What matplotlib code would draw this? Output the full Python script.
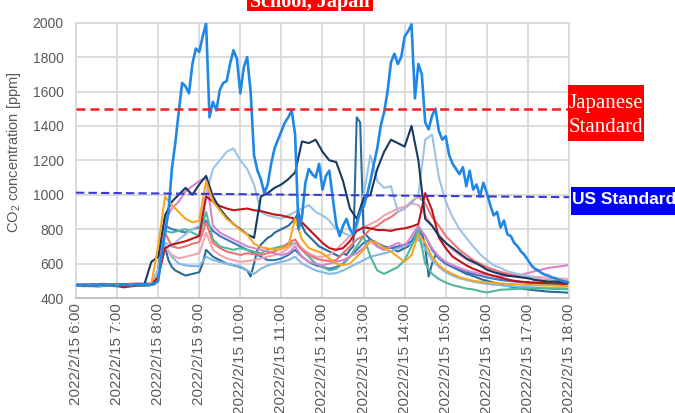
import numpy as np
import matplotlib
matplotlib.use("Agg")
import matplotlib.pyplot as plt
from matplotlib.patches import Rectangle

# ---------------------------------------------------------------
# CO2 readings [ppm], classrooms, 2022/2/15 06:00 - 18:00
# 10-minute series: one row per hour (:00 :10 :20 :30 :40 :50), then 18:00
# ---------------------------------------------------------------
room_navy = [
    478, 476, 480, 477, 479, 481,
    480, 478, 482, 479, 481, 610,
    640, 880, 960, 1000, 1040, 1000,
    1060, 1110, 990, 920, 870, 830,
    800, 770, 750, 990, 1010, 1040,
    1060, 1090, 1130, 1310, 1300, 1320,
    1250, 1200, 1190, 1080, 920, 860,
    980, 1000, 1150, 1250, 1320, 1300,
    1280, 1400, 1200, 860, 820, 760,
    720, 690, 660, 630, 610, 590,
    565, 550, 540, 530, 525, 520,
    515, 505, 500, 495, 495, 492,
    490]

room_lightblue = [
    480, 478, 482, 479, 477, 481,
    479, 482, 478, 481, 484, 486,
    560, 720, 700, 740, 770, 800,
    820, 1000, 1150, 1200, 1250, 1270,
    1200, 1150, 1060, 900, 880, 870,
    860, 880, 900, 920, 940, 900,
    880, 850, 800, 780, 760, 800,
    1000, 1230, 1080, 1040, 1050, 900,
    920, 950, 1000, 1320, 1350, 1100,
    960, 870, 800, 750, 700, 655,
    620, 590, 575, 555, 545, 535,
    525, 515, 505, 500, 495, 490,
    485]

room_red = [
    475, 472, 470, 473, 476, 474,
    470, 462, 468, 472, 475, 480,
    520, 690, 710, 720, 730, 745,
    760, 990, 960, 935, 920, 910,
    915, 920, 910, 905, 895, 885,
    880, 870, 860, 840, 800, 760,
    720, 690, 680, 690, 730, 790,
    810, 805, 795, 795, 790, 800,
    805, 815, 830, 1010, 910, 750,
    690, 640, 615, 590, 570, 555,
    540, 528, 518, 508, 500, 495,
    492, 490, 488, 486, 484, 482,
    480]

room_orange = [
    476, 474, 478, 475, 477, 479,
    478, 476, 480, 477, 479, 482,
    700, 990, 940, 900, 860, 840,
    850, 1080, 960, 910, 860, 830,
    795, 770, 715, 695, 688, 680,
    685, 700, 860, 740, 690, 675,
    660, 630, 600, 590, 600, 640,
    680, 730, 720, 690, 670, 640,
    610, 650, 770, 720, 640, 590,
    560, 540, 520, 510, 500, 495,
    490, 488, 485, 482, 480, 478,
    476, 475, 474, 473, 472, 470,
    470]

room_coral = [
    474, 477, 473, 476, 478, 475,
    477, 480, 476, 479, 482, 486,
    560, 780, 700, 690, 700, 715,
    725, 840, 720, 690, 670, 660,
    650, 660, 655, 650, 660, 670,
    690, 720, 740, 680, 650, 630,
    620, 615, 620, 660, 700, 740,
    760, 800, 820, 850, 870, 900,
    920, 960, 990, 950, 870, 820,
    760, 720, 680, 650, 620, 600,
    580, 565, 550, 540, 532, 525,
    518, 512, 507, 503, 500, 498,
    496]

room_pink = [
    471, 474, 470, 473, 475, 472,
    474, 471, 475, 478, 476, 480,
    540, 700, 650, 630, 640, 650,
    660, 780, 680, 650, 630, 620,
    610, 615, 620, 630, 640, 650,
    660, 690, 720, 690, 660, 640,
    640, 650, 680, 720, 760, 790,
    810, 830, 850, 880, 900, 920,
    930, 950, 940, 880, 820, 770,
    720, 680, 650, 625, 605, 590,
    575, 562, 552, 544, 538, 532,
    527, 523, 520, 517, 515, 513,
    510]

room_orchid = [
    478, 481, 477, 480, 483, 479,
    482, 479, 483, 486, 484, 488,
    520, 850, 920, 960, 1020, 1050,
    1080, 1100, 820, 780, 760, 740,
    720, 700, 690, 680, 670, 660,
    650, 660, 700, 640, 610, 600,
    590, 600, 610, 620, 640, 660,
    690, 730, 700, 680, 700, 720,
    700, 760, 820, 760, 690, 640,
    610, 590, 575, 560, 550, 540,
    535, 530, 528, 528, 530, 535,
    545, 555, 565, 575, 580, 585,
    592]

room_teal = [
    472, 468, 470, 466, 469, 471,
    467, 470, 468, 472, 470, 475,
    560, 790, 780, 790, 800, 780,
    760, 900, 740, 700, 690, 680,
    690, 680, 670, 660, 680, 690,
    700, 710, 720, 680, 640, 600,
    580, 560, 570, 600, 640, 700,
    760, 640, 560, 540, 560, 580,
    620, 700, 800, 600, 540, 510,
    490, 475, 465, 455, 450, 440,
    432, 440, 448, 450, 452, 455,
    455, 456, 455, 454, 452, 452,
    450]

room_midblue = [
    476, 473, 477, 474, 472, 475,
    473, 476, 474, 477, 479, 482,
    560, 820, 800, 790, 780, 800,
    810, 850, 790, 760, 740, 720,
    700, 680, 660, 640, 620, 620,
    630, 650, 680, 640, 610, 590,
    580, 570, 580, 600, 640, 680,
    720, 740, 720, 700, 690, 700,
    710, 730, 800, 760, 680, 630,
    600, 580, 565, 550, 540, 530,
    520, 512, 505, 500, 496, 492,
    488, 485, 482, 480, 478, 476,
    475]

room_sky = [
    480, 477, 481, 478, 476, 479,
    477, 480, 478, 481, 483, 485,
    540, 700, 640, 600, 590, 585,
    585, 640, 620, 610, 600, 590,
    585, 560, 540, 570, 590, 600,
    610, 620, 640, 600, 580, 560,
    550, 540, 545, 560, 580, 600,
    620, 640, 650, 660, 670, 690,
    700, 720, 740, 690, 620, 580,
    550, 530, 515, 505, 495, 488,
    482, 478, 474, 470, 467, 465,
    463, 461, 460, 459, 458, 457,
    456]

# 5-minute series: one row per hour (:00 ... :55), then 18:00
room_blue = [
    475, 472, 478, 474, 470, 476, 473, 479, 475, 471, 477, 474,
    470, 476, 480, 475, 472, 478, 474, 476, 480, 477, 479, 484,
    500, 650, 780, 900, 1150, 1300, 1480, 1650, 1630, 1590, 1760, 1850,
    1830, 1920, 1995, 1450, 1540, 1490, 1610, 1650, 1660, 1760, 1840, 1790,
    1590, 1740, 1800, 1600, 1230, 1140, 1090, 1010, 1060, 1180, 1270, 1320,
    1370, 1420, 1450, 1490, 1350, 800, 870, 1070, 1150, 1120, 1100, 1180,
    1030, 1110, 1140, 980, 830, 760, 820, 860, 800, 770, 840, 900,
    930, 1000, 1080, 1180, 1270, 1400, 1480, 1600, 1770, 1820, 1760, 1800,
    1920, 1950, 1990, 1560, 1760, 1700, 1420, 1380, 1460, 1500, 1370, 1320,
    1340, 1230, 1180, 1150, 1120, 1160, 1050, 1140, 1030, 1060, 990, 1070,
    1010, 940, 880, 900, 810, 850, 770, 760, 720, 700, 670, 650,
    620, 590, 570, 560, 545, 535, 530, 520, 515, 505, 500, 495,
    490]

room_steel = [
    472, 470, 474, 471, 469, 473, 470, 468, 472, 470, 474, 471,
    470, 473, 469, 471, 474, 470, 472, 475, 471, 473, 476, 480,
    560, 740, 700, 620, 580, 560, 550, 540, 530, 535, 540, 545,
    550, 600, 680, 660, 640, 630, 620, 610, 600, 595, 590, 585,
    580, 570, 560, 525, 600, 680, 710, 730, 750, 760, 780, 790,
    800, 810, 820, 840, 860, 900, 820, 780, 760, 740, 720, 700,
    690, 680, 670, 660, 650, 640, 660, 650, 680, 700, 1450, 1420,
    780, 760, 740, 720, 700, 690, 680, 690, 700, 680, 670, 680,
    690, 700, 720, 740, 760, 780, 700, 525, 600, 650, 640, 620,
    600, 590, 580, 570, 560, 550, 540, 535, 528, 520, 512, 505,
    500, 495, 490, 485, 480, 475, 470, 466, 462, 458, 455, 452,
    450, 447, 445, 443, 441, 439, 437, 436, 435, 434, 433, 432,
    430]

japanese_standard = 1500          # ppm
us_standard = [1012, 986]         # drawn guide at 06:00 and 18:00

hour_ticks = [6, 7, 8, 9, 10, 11, 12, 13, 14, 15, 16, 17, 18]
tick_labels = ["2022/2/15 6:00", "2022/2/15 7:00", "2022/2/15 8:00",
               "2022/2/15 9:00", "2022/2/15 10:00", "2022/2/15 11:00",
               "2022/2/15 12:00", "2022/2/15 13:00", "2022/2/15 14:00",
               "2022/2/15 15:00", "2022/2/15 16:00", "2022/2/15 17:00",
               "2022/2/15 18:00"]
y_ticks = [400, 600, 800, 1000, 1200, 1400, 1600, 1800, 2000]


def hours_for(values, step_min):
    return 6 + np.arange(len(values)) * step_min / 60.0


plt.rcParams["font.family"] = ["Liberation Sans", "DejaVu Sans"]
plt.rcParams["mathtext.fontset"] = "custom"
plt.rcParams["mathtext.rm"] = "Liberation Sans"
plt.rcParams["mathtext.it"] = "Liberation Sans:italic"

W, H = 675, 413
fig = plt.figure(figsize=(W / 100, H / 100), dpi=100)
ax = fig.add_axes([76 / W, 1 - 298 / H, 493 / W, 275.3 / H])

grey = "#595959"

series_10 = [
    (room_sky, "#80b8e6"),
    (room_midblue, "#3b78c2"),
    (room_teal, "#4fb89c"),
    (room_pink, "#f3a2b2"),
    (room_orchid, "#d884cc"),
    (room_coral, "#ee7474"),
    (room_lightblue, "#9cc3e6"),
    (room_red, "#c0141c"),
    (room_navy, "#173a60"),
    (room_orange, "#f6a623"),
]
ax.plot(hours_for(room_steel, 5), room_steel, color="#2a6c9c", lw=1.5, zorder=2)
for vals, col in series_10:
    ax.plot(hours_for(vals, 10), vals, color=col, lw=1.5, zorder=2)
ax.plot(hours_for(room_blue, 5), room_blue, color="#1f88e6", lw=1.9, zorder=3)

# reference levels
ax.axhline(japanese_standard, color="#f02a2a", lw=1.9, ls=(0, (3.4, 1.9)), zorder=4)
ax.plot([6, 18], us_standard, color="#3a3ad2", lw=1.5, ls=(0, (4.0, 2.0)),
        zorder=4, clip_on=False)

ax.set_xlim(6, 18)
ax.set_ylim(400, 2000)
ax.set_xticks(hour_ticks)
ax.set_xticklabels(tick_labels, rotation=90, fontsize=11, color=grey)
ax.set_yticks(y_ticks)
ax.set_yticklabels([str(v) for v in y_ticks], fontsize=10, color=grey)
ax.tick_params(axis="both", length=0)
ax.tick_params(axis="x", pad=4)
ax.tick_params(axis="y", pad=9)
ax.grid(True, color="#d9d9d9", lw=1.3)
ax.set_axisbelow(True)
for side in ["left", "right", "top"]:
    ax.spines[side].set_color("#d9d9d9")
    ax.spines[side].set_linewidth(1.3)
ax.spines["bottom"].set_color("#bfbfbf")
ax.spines["bottom"].set_linewidth(1.3)

ax.set_ylabel("CO$_2$ concentration [ppm]", fontsize=10.5, color=grey)
ax.yaxis.set_label_coords(-0.107, 0.53)

# header tag
fig.patches.append(Rectangle((247 / W, 1 - 10.5 / H), 126 / W, 0.05,
                             transform=fig.transFigure, fc="#ff0000", ec="none"))
fig.text(310 / W, 1 - 7.5 / H, "School, Japan", ha="center", va="baseline",
         fontsize=14.5, fontweight="bold", color="white",
         family=["Liberation Serif", "DejaVu Serif"])

# standard tags
fig.patches.append(Rectangle((568 / W, 1 - 141 / H), 76 / W, 56 / H,
                             transform=fig.transFigure, fc="#ff0000", ec="none"))
fig.text(606 / W, 1 - 108 / H, "Japanese", ha="center", va="baseline",
         fontsize=15, color="white", family=["Liberation Serif", "DejaVu Serif"])
fig.text(606 / W, 1 - 131.5 / H, "Standard", ha="center", va="baseline",
         fontsize=15, color="white", family=["Liberation Serif", "DejaVu Serif"])

fig.patches.append(Rectangle((571 / W, 1 - 215 / H), 110 / W, 28 / H,
                             transform=fig.transFigure, fc="#0000ff", ec="none"))
fig.text(572 / W, 1 - 204 / H, "US Standard", ha="left", va="baseline",
         fontsize=12.5, fontweight="bold", color="white")

fig.savefig("out.png", dpi=100)
